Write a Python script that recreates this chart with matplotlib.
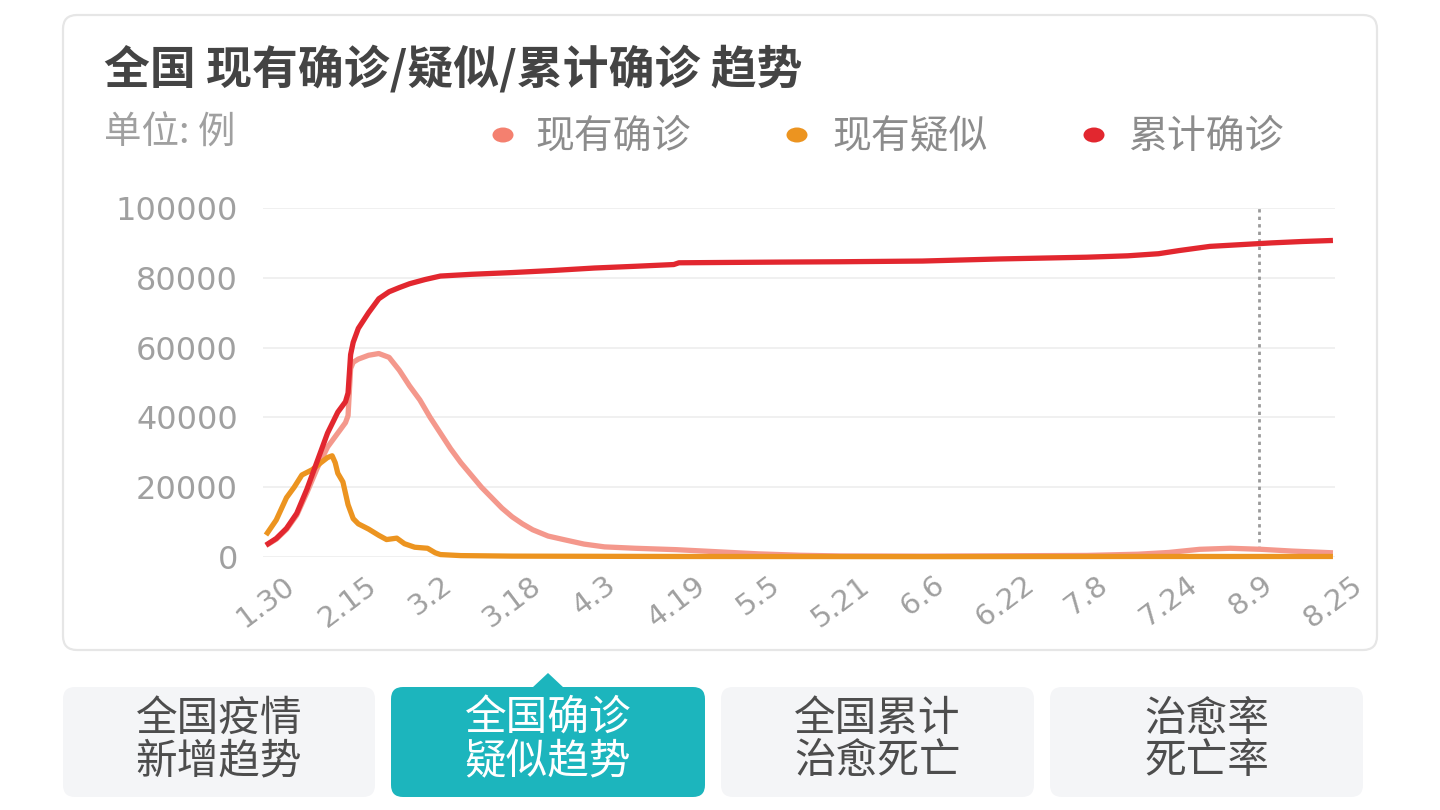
import matplotlib
matplotlib.use("Agg")
import matplotlib.pyplot as plt
from matplotlib.patches import FancyBboxPatch, Ellipse, Polygon

plt.rcParams['font.family'] = ['Noto Sans CJK SC', 'DejaVu Sans']

# ---------------- data ----------------
title = "全国 现有确诊/疑似/累计确诊 趋势"
unit_label = "单位: 例"
series_names = ["现有确诊", "现有疑似", "累计确诊"]
tick_labels = ["1.30", "2.15", "3.2", "3.18", "4.3", "4.19", "5.5", "5.21",
               "6.6", "6.22", "7.8", "7.24", "8.9", "8.25"]
tick_days = [0, 16, 32, 48, 64, 80, 96, 112, 128, 144, 160, 176, 192, 208]
y_ticks = [0, 20000, 40000, 60000, 80000, 100000]
hover_day = 193.6
tabs = [("全国疫情", "新增趋势"), ("全国确诊", "疑似趋势"),
        ("全国累计", "治愈死亡"), ("治愈率", "死亡率")]
active_tab = 1

# cumulative confirmed (累计确诊)
cum_days = [0, 2, 4, 6, 8, 10, 12, 14, 15.5, 16, 16.5, 17, 18, 20, 22, 24, 26,
            28, 31, 34, 40, 48, 56, 64, 72, 78, 79.5, 80.5, 90, 100, 112, 128,
            143, 160, 168, 174, 178, 184, 190, 196, 202, 208]
cum_vals = [3400, 5300, 8200, 12500, 19500, 27500, 35500, 41500, 44500, 47000,
            58000, 61500, 65500, 70000, 74000, 76000, 77200, 78300, 79500,
            80500, 81000, 81500, 82100, 82800, 83300, 83700, 83800, 84300,
            84400, 84500, 84600, 84800, 85400, 85900, 86300, 86900, 87800,
            89000, 89500, 90000, 90400, 90700]

# current confirmed (现有确诊)
cur_days = [0, 2, 4, 6, 8, 10, 12, 14, 15.5, 16, 16.5, 17, 18, 20, 22, 24, 26,
            28, 30, 32, 34, 36, 38, 40, 42, 44, 46, 48, 50, 52, 55, 58, 62,
            66, 72, 80, 88, 96, 104, 112, 128, 144, 160, 170, 176, 182, 188,
            194, 200, 208]
cur_vals = [3300, 5100, 7900, 12000, 18500, 25500, 31500, 35500, 38500, 40500,
            54000, 55800, 56700, 57800, 58300, 57200, 53500, 49000, 45000,
            40000, 35500, 31000, 27000, 23500, 20000, 17000, 14000, 11500,
            9500, 7800, 6000, 5000, 3700, 2900, 2500, 2100, 1500, 900, 500,
            300, 250, 350, 450, 800, 1300, 2200, 2500, 2200, 1700, 1200]

# current suspected (现有疑似)
sus_days = [0, 2, 4, 5.5, 7, 9, 10.5, 12, 12.9, 13.5, 14, 15, 16, 17, 18, 20,
            22, 23.5, 25.5, 27, 29, 31.5, 33, 34, 38, 48, 80, 130, 170, 208]
sus_vals = [6300, 10600, 17000, 20000, 23500, 25000, 26800, 28500, 29000,
            27000, 24000, 21500, 15000, 11000, 9500, 8000, 6200, 5000, 5400,
            3800, 2800, 2500, 1200, 700, 400, 250, 150, 100, 150, 150]

# ---------------- styling ----------------
C_CUR = "#f4988c"
C_CUR_DOT = "#f4806f"
C_SUS = "#ec9420"
C_CUM = "#e2272f"
TEAL = "#1cb5bd"
W, H = 1440, 810

fig = plt.figure(figsize=(W / 100, H / 100), dpi=100)
fig.patch.set_facecolor("white")

# background overlay in pixel coordinates
bg = fig.add_axes([0, 0, 1, 1])
bg.set_xlim(0, W)
bg.set_ylim(H, 0)
bg.axis("off")

card = FancyBboxPatch((63, 15), 1377 - 63, 650 - 15,
                      boxstyle="round,pad=0,rounding_size=14",
                      fc="white", ec="#e6e6e6", lw=1.6)
bg.add_patch(card)

bg.text(104, 70, title, fontsize=33, fontweight="bold", color="#444444",
        ha="left", va="center")
bg.text(104, 133, unit_label, fontsize=27, color="#a0a0a0",
        ha="left", va="center")

legend_dot_x = [503, 797, 1094]
legend_text_x = [535, 832, 1128]
for name, col, dx, tx in zip(series_names, [C_CUR_DOT, C_SUS, C_CUM],
                             legend_dot_x, legend_text_x):
    bg.add_patch(Ellipse((dx, 135), 21, 15, fc=col, ec="none"))
    bg.text(tx, 137, name, fontsize=28, color="#8c8c8c", ha="left", va="center")

# tabs
tab_x = [(63, 375), (391, 705), (721, 1034), (1050, 1363)]
for i, ((x0, x1), (l1, l2)) in enumerate(zip(tab_x, tabs)):
    active = (i == active_tab)
    fc = TEAL if active else "#f4f5f7"
    bg.add_patch(FancyBboxPatch((x0, 687), x1 - x0, 110,
                                boxstyle="round,pad=0,rounding_size=12",
                                fc=fc, ec="none"))
    if active:
        cx = (x0 + x1) / 2
        bg.add_patch(Polygon([(cx - 16, 688), (cx, 673), (cx + 16, 688)],
                             closed=True, fc=TEAL, ec="none"))
    tc = "white" if active else "#4d4d4d"
    cx = (x0 + x1) / 2
    bg.text(cx, 719, l1, fontsize=30, color=tc, ha="center", va="center")
    bg.text(cx, 762, l2, fontsize=30, color=tc, ha="center", va="center")

# ---------------- chart axes ----------------
ax = fig.add_axes([263 / W, 1 - 557 / H, (1335 - 263) / W, 349 / H])
ax.patch.set_alpha(0)
ax.set_xlim(-0.58, 208.4)
ax.set_ylim(0, 100000)
for s in ax.spines.values():
    s.set_visible(False)
ax.set_yticks(y_ticks)
ax.set_yticklabels([str(v) for v in y_ticks])
ax.yaxis.grid(True, color="#eeeeee", lw=1.2)
ax.set_axisbelow(True)
ax.tick_params(axis="y", length=0, pad=18, labelsize=23, labelcolor="#a0a0a0")
ax.set_xticks(tick_days)
ax.set_xticklabels(tick_labels, rotation=37, ha="center", va="top")
ax.tick_params(axis="x", length=0, pad=10, labelsize=21, labelcolor="#a0a0a0")
for lab in ax.get_yticklabels():
    lab.set_family(["DejaVu Sans"])
for lab in ax.get_xticklabels():
    lab.set_family(["DejaVu Sans"])

ax.axvline(hover_day, color="#9a9a9a", lw=2, ls=(0, (1.2, 1.5)), zorder=1)

lw = 3.8
ax.plot(cur_days, cur_vals, color=C_CUR, lw=lw, solid_joinstyle="round",
        solid_capstyle="butt", clip_on=False, zorder=3)
ax.plot(sus_days, sus_vals, color=C_SUS, lw=lw, solid_joinstyle="round",
        solid_capstyle="butt", clip_on=False, zorder=4)
ax.plot(cum_days, cum_vals, color=C_CUM, lw=lw, solid_joinstyle="round",
        solid_capstyle="butt", clip_on=False, zorder=5)

fig.savefig("out.png", dpi=100)
